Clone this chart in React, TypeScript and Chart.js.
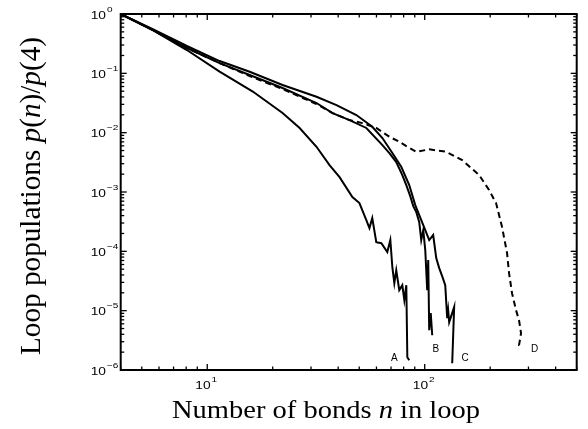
import React, { useEffect, useRef } from "react";
import { Chart, registerables } from "chart.js";

Chart.register(...registerables);

// ---------- data ----------
const nA = [4, 5.62, 8.06, 11.4, 16.2, 22.2, 26.6, 31.8, 36.5, 40.6, 46.5, 50.1, 53.9, 55.7, 57.4, 59.9, 63.2, 67.3, 69.5, 71.0, 72.5, 74.0, 76.4, 78.9, 80.6, 82.3, 83.2, 84.9];
const pA = [1, 0.537, 0.247, 0.107, 0.0493, 0.0214, 0.012, 0.00578, 0.00284, 0.00178, 0.00082, 0.00065, 0.000336, 0.000246, 0.000363, 0.000143, 0.000137, 0.000097, 0.000155, 0.000054, 0.0000291, 0.000048, 0.0000222, 0.0000269, 0.000015, 0.0000269, 0.00000164, 0.00000146];

const nB = [4, 5.62, 8.06, 11.4, 15.67, 22.2, 31.8, 37.7, 45.1, 53.9, 63.9, 68.8, 74.0, 78.9, 82.3, 85.8, 88.6, 91.5, 94.4, 96.4, 98.5, 100.6, 102.7, 103.8, 104.9, 106.6, 108.3];
const pB = [1, 0.537, 0.267, 0.149, 0.0936, 0.0565, 0.0316, 0.0214, 0.0163, 0.012, 0.00618, 0.00453, 0.00319, 0.00193, 0.00131, 0.000853, 0.000578, 0.000458, 0.00031, 0.000155, 0.000228, 0.000105, 0.0000222, 0.0000711, 0.00000469, 0.00000908, 0.00000386];

const nC = [4, 5.62, 8.06, 11.4, 15.67, 22.2, 31.8, 39.3, 48.5, 57.4, 63.9, 71.0, 78.0, 84.9, 90.5, 94.4, 100.6, 104.9, 109.4, 113.0, 116.6, 120.3, 124.3, 126.9, 128.2, 129.6, 136.6, 133.8];
const pC = [1, 0.558, 0.289, 0.161, 0.1064, 0.0635, 0.0403, 0.0292, 0.0198, 0.01257, 0.00811, 0.00453, 0.00266, 0.00131, 0.000601, 0.000408, 0.000228, 0.000155, 0.000188, 0.0000768, 0.0000521, 0.0000382, 0.0000269, 0.00000747, 0.0000102, 0.0000064, 0.0000115, 0.0000013];

const nD = [4, 5.62, 8.06, 11.4, 15.67, 22.2, 31.8, 37.7, 45.1, 51.7, 59.9, 68.8, 76.4, 82.3, 91.5, 104.9, 125.6, 148.7, 177.9, 197.7, 212.9, 226.9, 239.2, 244.3, 252.1, 263.0, 271.5, 277.3, 271.5, 280.2];
const pD = [1, 0.537, 0.267, 0.149, 0.09, 0.0543, 0.0304, 0.0214, 0.0163, 0.0145, 0.012, 0.00853, 0.00703, 0.00594, 0.00476, 0.00523, 0.00476, 0.00345, 0.00193, 0.00108, 0.00065, 0.000256, 0.0000933, 0.0000429, 0.0000197, 0.0000102, 0.0000069, 0.00000418, 0.00000262, 0.00000242];

// curve labels, placed in data coordinates
const curveLabels = ["A", "B", "C", "D"];
const curveLabelN = [72.5, 112.4, 153.5, 320.5];
const curveLabelP = [1.58e-6, 2.24e-6, 1.58e-6, 2.24e-6];

// axes
const X_MIN = 4;
const X_MAX = 500;
const Y_MIN = 1e-6;
const Y_MAX = 1;
const xTickExps = [1, 2];
const yTickExps = [0, -1, -2, -3, -4, -5, -6];

const xTitle: [string, boolean][] = [["Number of bonds ", false], ["n", true], [" in loop", false]];
const yTitle: [string, boolean][] = [["Loop populations ", false], ["p", true], ["(", false], ["n", true], [")/", false], ["p", true], ["(4)", false]];

const zip = (a: number[], b: number[]) => a.map((v, i) => ({ x: v, y: b[i] }));

const SERIF = '"Liberation Serif", "DejaVu Serif", serif';
const SANS = '"Liberation Sans", Arial, sans-serif';

function drawRich(ctx: CanvasRenderingContext2D, parts: [string, boolean][], size: number, targetW: number) {
  let w = 0;
  const widths: number[] = [];
  for (const [t, it] of parts) {
    ctx.font = `${it ? "italic " : ""}${size}px ${SERIF}`;
    const m = ctx.measureText(t).width;
    widths.push(m);
    w += m;
  }
  const sx = targetW / w;
  ctx.save();
  ctx.scale(sx, 1);
  let x = -w / 2;
  parts.forEach(([t, it], i) => {
    ctx.font = `${it ? "italic " : ""}${size}px ${SERIF}`;
    ctx.fillText(t, x, 0);
    x += widths[i];
  });
  ctx.restore();
}

// "10" with a raised exponent; left edge at x (mode left) or centred on x
function drawPow(ctx: CanvasRenderingContext2D, exp: number, x: number, y: number, mode: "left" | "center") {
  const base = "10";
  const e = String(exp).replace("-", "\u2212");
  const SX = 1.25;
  ctx.font = `11px ${SANS}`;
  const wb = ctx.measureText(base).width * SX;
  ctx.font = `8px ${SANS}`;
  const we = ctx.measureText(e).width * SX;
  const total = wb + 1 + we;
  const left = mode === "left" ? x : x - total / 2;
  ctx.textBaseline = "middle";
  ctx.textAlign = "left";
  ctx.save();
  ctx.translate(left, y);
  ctx.scale(SX, 1);
  ctx.font = `11px ${SANS}`;
  ctx.fillText(base, 0, 0);
  ctx.font = `8px ${SANS}`;
  ctx.fillText(e, (wb + 1) / SX, -6);
  ctx.restore();
}

const framePlugin = {
  id: "matlabFrame",
  afterDatasetsDraw(chart: any) {
    const { ctx, chartArea: a, scales } = chart;
    const xs = scales.x;
    const ys = scales.y;
    ctx.save();
    ctx.strokeStyle = "#000";
    ctx.fillStyle = "#000";

    ctx.lineWidth = 1.3;
    const seg = (x1: number, y1: number, x2: number, y2: number) => {
      ctx.beginPath();
      ctx.moveTo(x1, y1);
      ctx.lineTo(x2, y2);
      ctx.stroke();
    };
    for (let k = Math.floor(Math.log10(X_MIN)); k <= Math.ceil(Math.log10(X_MAX)); k++) {
      for (let m = 1; m <= 9; m++) {
        const v = m * Math.pow(10, k);
        if (v < X_MIN || v > X_MAX) continue;
        const px = xs.getPixelForValue(v);
        const L = m === 1 ? 6 : 3.5;
        seg(px, a.bottom, px, a.bottom - L);
        seg(px, a.top, px, a.top + L);
      }
    }
    for (let k = -6; k <= 0; k++) {
      for (let m = 1; m <= 9; m++) {
        const v = m * Math.pow(10, k);
        if (v < Y_MIN * 0.999 || v > Y_MAX * 1.001) continue;
        const py = ys.getPixelForValue(v);
        const L = m === 1 ? 6 : 3.5;
        seg(a.left, py, a.left + L, py);
        seg(a.right, py, a.right - L, py);
      }
    }

    ctx.lineWidth = 2;
    ctx.strokeRect(a.left, a.top, a.right - a.left, a.bottom - a.top);

    for (const e of yTickExps) {
      drawPow(ctx, e, a.left - 30, ys.getPixelForValue(Math.pow(10, e)) + 1.5, "left");
    }
    for (const e of xTickExps) {
      drawPow(ctx, e, xs.getPixelForValue(Math.pow(10, e)) - 1, a.bottom + 16, "center");
    }

    ctx.font = `10px ${SANS}`;
    ctx.textAlign = "center";
    ctx.textBaseline = "middle";
    curveLabels.forEach((t, i) => {
      ctx.fillText(t, xs.getPixelForValue(curveLabelN[i]), ys.getPixelForValue(curveLabelP[i]));
    });

    ctx.textAlign = "left";
    ctx.textBaseline = "alphabetic";
    ctx.save();
    ctx.translate(326, 418);
    drawRich(ctx, xTitle, 25, 308);
    ctx.restore();

    ctx.save();
    ctx.translate(40, 196);
    ctx.rotate(-Math.PI / 2);
    drawRich(ctx, yTitle, 29, 318);
    ctx.restore();

    ctx.restore();
  },
};

export default function App() {
  const ref = useRef<HTMLCanvasElement | null>(null);
  useEffect(() => {
    if (!ref.current) return;
    const common = { showLine: true, pointRadius: 0, borderWidth: 2, borderColor: "#000", backgroundColor: "#000", tension: 0, fill: false };
    const chart = new Chart(ref.current, {
      type: "scatter",
      data: {
        datasets: [
          { ...common, label: "D", data: zip(nD, pD), borderDash: [6, 4] },
          { ...common, label: "A", data: zip(nA, pA) },
          { ...common, label: "B", data: zip(nB, pB) },
          { ...common, label: "C", data: zip(nC, pC) },
        ],
      },
      options: {
        animation: false,
        responsive: false,
        layout: { padding: { left: 120.7, right: 11.3, top: 14, bottom: 59 } },
        plugins: { legend: { display: false }, tooltip: { enabled: false } },
        scales: {
          x: { type: "logarithmic", min: X_MIN, max: X_MAX, display: false },
          y: { type: "logarithmic", min: Y_MIN, max: Y_MAX, display: false },
        },
      },
      plugins: [framePlugin],
    });
    return () => chart.destroy();
  }, []);
  return (
    <div style={{ position: "fixed", left: 0, top: 0, width: 588, height: 429, background: "#fff" }}>
      <canvas ref={ref} width={588} height={429} style={{ display: "block" }} />
    </div>
  );
}
